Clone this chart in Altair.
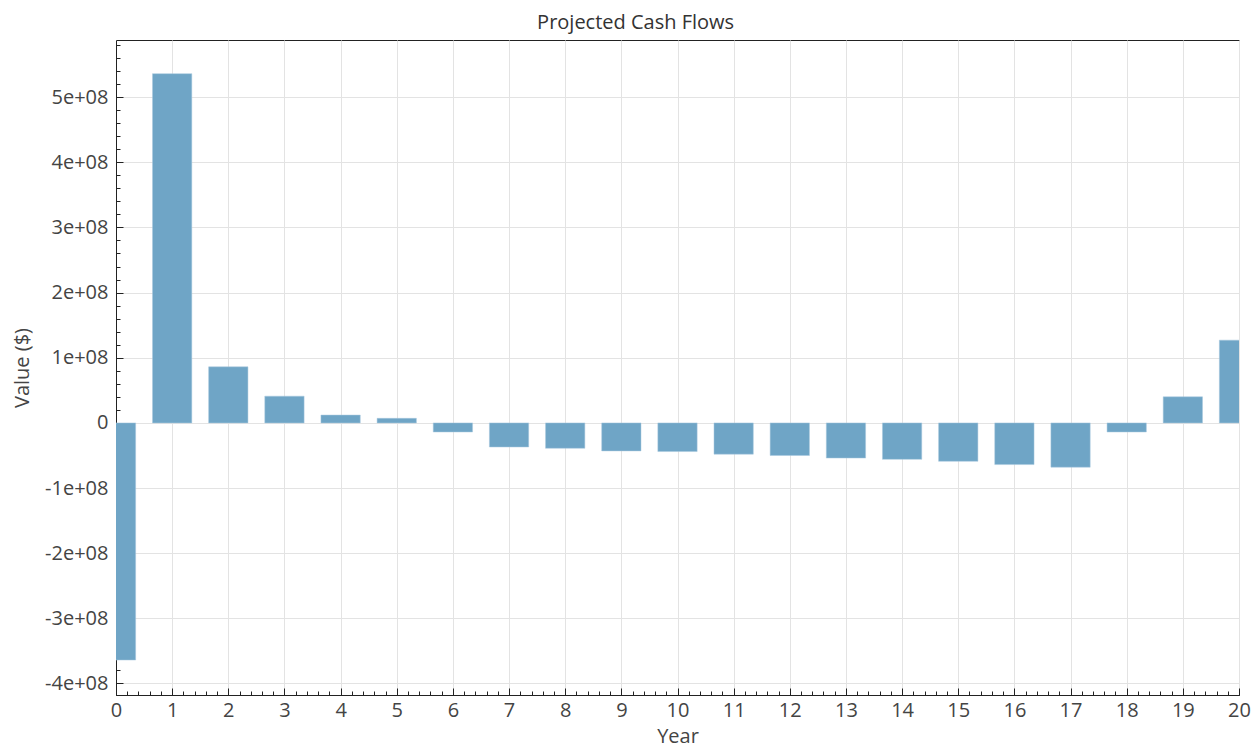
import altair as alt
import pandas as pd

years = list(range(21))
values = [-3.64e8, 5.36e8, 0.86e8, 0.41e8, 0.12e8, 0.07e8, -0.14e8, -0.37e8,
          -0.39e8, -0.43e8, -0.44e8, -0.48e8, -0.50e8, -0.54e8, -0.56e8,
          -0.59e8, -0.64e8, -0.68e8, -0.14e8, 0.40e8, 1.27e8]
y_major = [-4e8, -3e8, -2e8, -1e8, 0, 1e8, 2e8, 3e8, 4e8, 5e8]
y_minor = [v * 2e7 for v in range(-20, 30)]
x_major = years
x_minor = [i / 5 for i in range(0, 101)]

df = pd.DataFrame({"year": years, "value": values})

FONT = "Open Sans"
FS = 20
BAR = "#6fa5c6"
xscale = alt.Scale(domain=[0, 20], nice=False, zero=False)
yscale = alt.Scale(domain=[-4.1e8, 5.8e8], nice=False, zero=False)

base = alt.Chart(df).transform_calculate(x0="datum.year - 0.35", x1="datum.year + 0.35")

bars = base.mark_bar(color=BAR, clip=True, stroke="#a8c9de", strokeWidth=0.5).encode(
    x=alt.X("x0:Q", scale=xscale, title="Year",
            axis=alt.Axis(values=x_major, format="d", grid=True, gridColor="#e3e3e3",
                          ticks=False, tickSize=0, labelPadding=5, domainColor="#222",
                          labelFlush=False,
                          labelFont=FONT, labelFontSize=FS, labelColor="#444",
                          titleFont=FONT, titleFontSize=FS, titleColor="#444",
                          titleFontWeight="normal", titlePadding=6, orient="bottom")),
    x2="x1:Q",
    y=alt.Y("value:Q", scale=yscale, title="Value ($)",
            axis=alt.Axis(values=y_major, grid=True, gridColor="#e3e3e3",
                          labelExpr="datum.value == 0 ? '0' : (datum.value/1e8) + 'e+08'",
                          ticks=False, tickSize=0, labelPadding=8, domainColor="#222",
                          labelFlush=False,
                          labelFont=FONT, labelFontSize=FS, labelColor="#444",
                          titleFont=FONT, titleFontSize=FS, titleColor="#444",
                          titleFontWeight="normal", titlePadding=12, orient="left")),
    y2=alt.datum(0),
)

def tick_layer(xvals, yvals, size):
    return base.mark_bar(opacity=0).encode(
        x=alt.X("x0:Q", scale=xscale, title=None,
                axis=alt.Axis(values=xvals, orient="bottom", offset=-size, tickSize=size,
                              tickColor="#222", labels=False, domain=False, grid=False)),
        x2="x1:Q",
        y=alt.Y("value:Q", scale=yscale, title=None,
                axis=alt.Axis(values=yvals, orient="left", offset=-size, tickSize=size,
                              tickColor="#222", labels=False, domain=False, grid=False)),
    )

chart = alt.layer(
    bars,
    tick_layer(x_minor, y_minor, 4),
    tick_layer(x_major, y_major, 7),
).resolve_axis(x="independent", y="independent").properties(
    width=1123, height=655,
    title=alt.TitleParams("Projected Cash Flows", font=FONT, fontSize=FS, color="#333",
                          fontWeight="normal", anchor="middle", frame="bounds", offset=7),
    autosize=alt.AutoSizeParams(type="none"),
    padding={"left": 108, "top": 32, "right": 13, "bottom": 60},
).configure_view(stroke="#222", strokeWidth=1)

chart.save("out.html", embed_options={"renderer": "svg", "actions": False})
